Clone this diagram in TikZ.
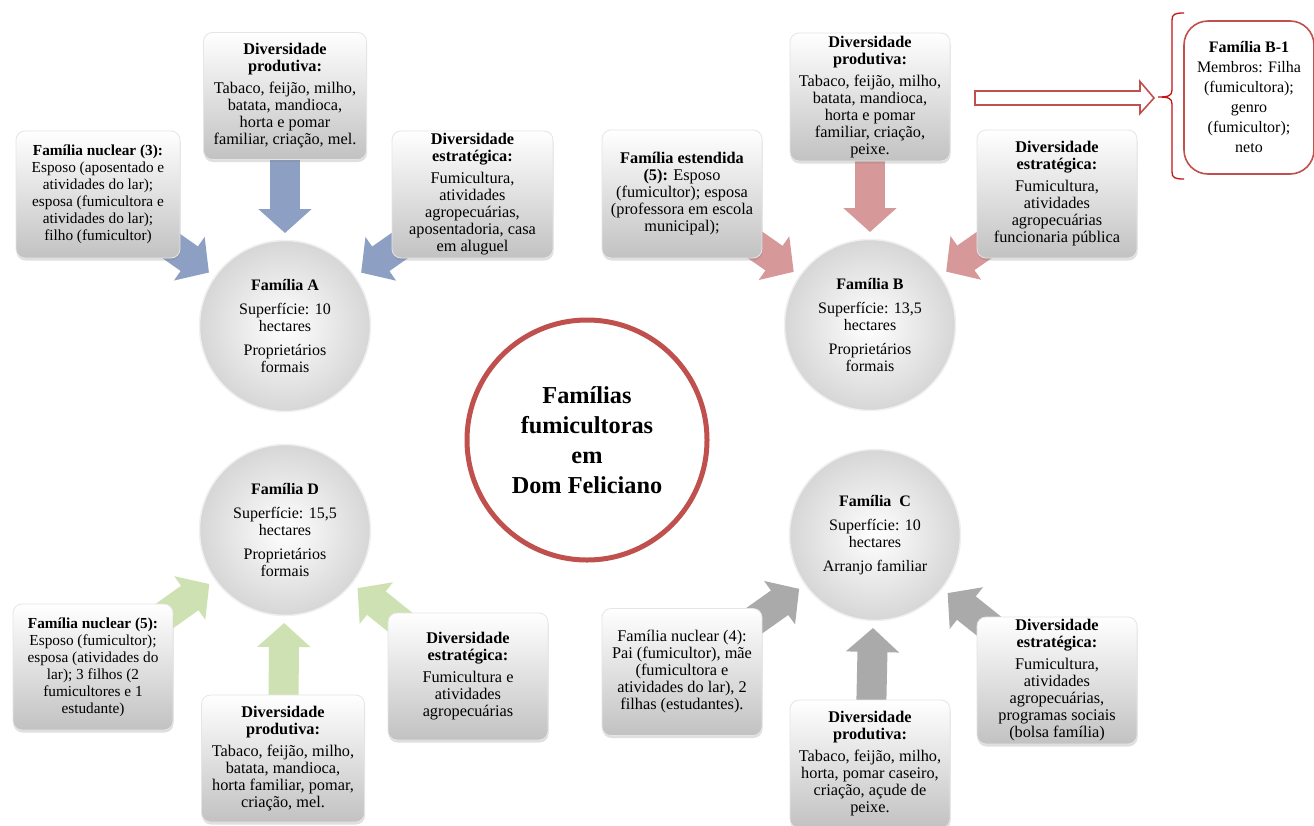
\documentclass[tikz,border=0pt]{standalone}
\usepackage{fontspec}
\setmainfont{Liberation Serif}
\usetikzlibrary{arrows.meta,shadows,calc}
\pgfdeclarelayer{bg}
\pgfsetlayers{bg,main}

\definecolor{ringred}{RGB}{192,80,77}
\definecolor{bracered}{RGB}{196,20,20}
\definecolor{arrowblue}{RGB}{141,160,196}
\definecolor{arrowpink}{RGB}{214,152,152}
\definecolor{arrowgreen}{RGB}{205,225,178}
\definecolor{arrowgray}{RGB}{170,170,170}

\tikzset{
  txt/.style={font=\fontsize{16.3pt}{17pt}\selectfont, align=center},
  smalltxt/.style={font=\fontsize{15.3pt}{17pt}\selectfont},
  infobox/.style={txt, rectangle, rounded corners=9pt, draw=black!10, line width=0.8pt,
    top color=white, bottom color=black!24, inner sep=1pt,
    minimum width=161pt, minimum height=127pt,
    drop shadow={opacity=0.25, shadow xshift=0.5pt, shadow yshift=-2.5pt}},
  famcircle/.style={txt, font=\fontsize{16pt}{17pt}\selectfont, circle, inner sep=0pt,
    minimum size=171pt, draw=black!6, line width=1.5pt, inner color=white, outer color=black!16},
  blockarrow/.style={line width=30pt, -{Triangle[width=52pt,length=24pt]}, shorten >=93pt},
}

\begin{document}
\begin{tikzpicture}[x=1pt,y=-1pt]
\useasboundingbox (0,0) rectangle (1314,825);

% ---------- centre ----------
\node[circle, minimum size=240pt, draw=ringred, line width=5pt, fill=white,
      font=\bfseries\fontsize{24.3pt}{30pt}\selectfont, align=center] (centre) at (587,440)
  {Famílias\\fumicultoras\\em\\Dom Feliciano};

% ---------- Família A ----------
\node[famcircle] (famA) at (285,326)
  {\textbf{Família A}\\[7pt]Superfície: 10\\hectares\\[7pt]Proprietários\\formais};
\node[infobox, smalltxt, minimum width=164pt] (anuc) at (98,194.5)
  {\textbf{Família nuclear (3):}\\Esposo (aposentado e\\atividades do lar);\\esposa (fumicultora e\\atividades do lar);\\filho (fumicultor)};
\node[infobox, minimum width=163pt] (aprod) at (285,96)
  {\textbf{Diversidade}\\\textbf{produtiva:}\\[5pt]Tabaco, feijão, milho,\\batata, mandioca,\\horta e pomar\\familiar, criação, mel.};
\node[infobox] (aestr) at (472.5,194.5)
  {\textbf{Diversidade}\\\textbf{estratégica:}\\[5pt]Fumicultura,\\atividades\\agropecuárias,\\aposentadoria, casa\\em aluguel};

% ---------- Família B ----------
\node[famcircle] (famB) at (870,325)
  {\textbf{Família B}\\[7pt]Superfície: 13,5\\hectares\\[7pt]Proprietários\\formais};
\node[infobox, minimum width=160pt, minimum height=128pt] (best) at (682,194)
  {\textbf{Família estendida}\\\textbf{(5):} Esposo\\(fumicultor); esposa\\(professora em escola\\municipal);};
\node[infobox, minimum width=160pt, minimum height=128pt] (bprod) at (870,97)
  {\textbf{Diversidade}\\\textbf{produtiva:}\\[5pt]Tabaco, feijão, milho,\\batata, mandioca,\\horta e pomar\\familiar, criação,\\peixe.};
\node[infobox, minimum width=160pt, minimum height=128pt] (bestr) at (1057,194)
  {\textbf{Diversidade}\\\textbf{estratégica:}\\[5pt]Fumicultura,\\atividades\\agropecuárias\\funcionaria pública};

% ---------- Família B-1 ----------
\node[txt, rectangle, rounded corners=24pt, draw=ringred, line width=1.6pt, fill=white,
      minimum width=130pt, minimum height=153pt, font=\fontsize{16pt}{20pt}\selectfont] (bone) at (1249,97.5)
  {\textbf{Família B-1}\\Membros: Filha\\(fumicultora);\\genro\\(fumicultor);\\neto};
\coordinate (bracetip) at (1158,97);
\coordinate (outstart) at (975,98);
\draw[bracered, line width=1.3pt]
  (1184,13) .. controls (1175,13) and (1172,14) .. (1172,20) -- (1172,90)
  .. controls (1172,96) and (1168,97) .. (bracetip)
  .. controls (1168,97) and (1172,98) .. (1172,104) -- (1172,172)
  .. controls (1172,178) and (1175,179) .. (1184,179);
\draw[ringred, line width=1.6pt, fill=white, line join=miter]
  ($(outstart)+(0,-7)$) -- ($(bracetip)+(-18,-6)$) -- ($(bracetip)+(-18,-15.5)$)
  -- ($(bracetip)+(-4,1)$) -- ($(bracetip)+(-18,16.5)$) -- ($(bracetip)+(-18,8)$)
  -- ($(outstart)+(0,7)$) -- cycle;

% ---------- Família D ----------
\node[famcircle] (famD) at (285,530)
  {\textbf{Família D}\\[7pt]Superfície: 15,5\\hectares\\[7pt]Proprietários\\formais};
\node[infobox, smalltxt, minimum width=160pt, minimum height=126pt] (dnuc) at (93,667)
  {\textbf{Família nuclear (5):}\\Esposo (fumicultor);\\esposa (atividades do\\lar); 3 filhos (2\\fumicultores e 1\\estudante)};
\node[infobox, minimum width=163pt] (dprod) at (283,758.5)
  {\textbf{Diversidade}\\\textbf{produtiva:}\\[5pt]Tabaco, feijão, milho,\\batata, mandioca,\\horta familiar, pomar,\\criação, mel.};
\node[infobox, minimum width=160pt] (destr) at (468,676.5)
  {\textbf{Diversidade}\\\textbf{estratégica:}\\[5pt]Fumicultura e\\atividades\\agropecuárias};

% ---------- Família C ----------
\node[famcircle] (famC) at (875,535)
  {\textbf{Família\enspace C}\\[7pt]Superfície: 10\\hectares\\[7pt]Arranjo familiar};
\node[infobox, minimum width=160pt] (cnuc) at (682,672)
  {Família nuclear (4):\\Pai (fumicultor), mãe\\(fumicultora e\\atividades do lar), 2\\filhas (estudantes).};
\node[infobox, minimum width=160pt, minimum height=128pt] (cprod) at (870,764)
  {\textbf{Diversidade}\\\textbf{produtiva:}\\[5pt]Tabaco, feijão, milho,\\horta, pomar caseiro,\\criação, açude de\\peixe.};
\node[infobox, minimum width=160pt] (cestr) at (1057,680.5)
  {\textbf{Diversidade}\\\textbf{estratégica:}\\[5pt]Fumicultura,\\atividades\\agropecuárias,\\programas sociais\\(bolsa família)};

% ---------- white page and block arrows, behind the boxes ----------
\begin{pgfonlayer}{bg}
  \fill[white] (0,0) rectangle (1314,825);
  \draw[blockarrow, arrowblue] (anuc.center) -- (famA.center);
  \draw[blockarrow, arrowblue] (aprod.center) -- (famA.center);
  \draw[blockarrow, arrowblue] (aestr.center) -- (famA.center);
  \draw[blockarrow, arrowpink] (best.center) -- (famB.center);
  \draw[blockarrow, arrowpink] (bprod.center) -- (famB.center);
  \draw[blockarrow, arrowpink] (bestr.center) -- (famB.center);
  \draw[blockarrow, arrowgreen] (dnuc.center) -- (famD.center);
  \draw[blockarrow, arrowgreen] (dprod.center) -- (famD.center);
  \draw[blockarrow, arrowgreen] (destr.center) -- (famD.center);
  \draw[blockarrow, arrowgray] (cnuc.center) -- (famC.center);
  \draw[blockarrow, arrowgray] (cprod.center) -- (famC.center);
  \draw[blockarrow, arrowgray] (cestr.center) -- (famC.center);
\end{pgfonlayer}
\end{tikzpicture}
\end{document}
